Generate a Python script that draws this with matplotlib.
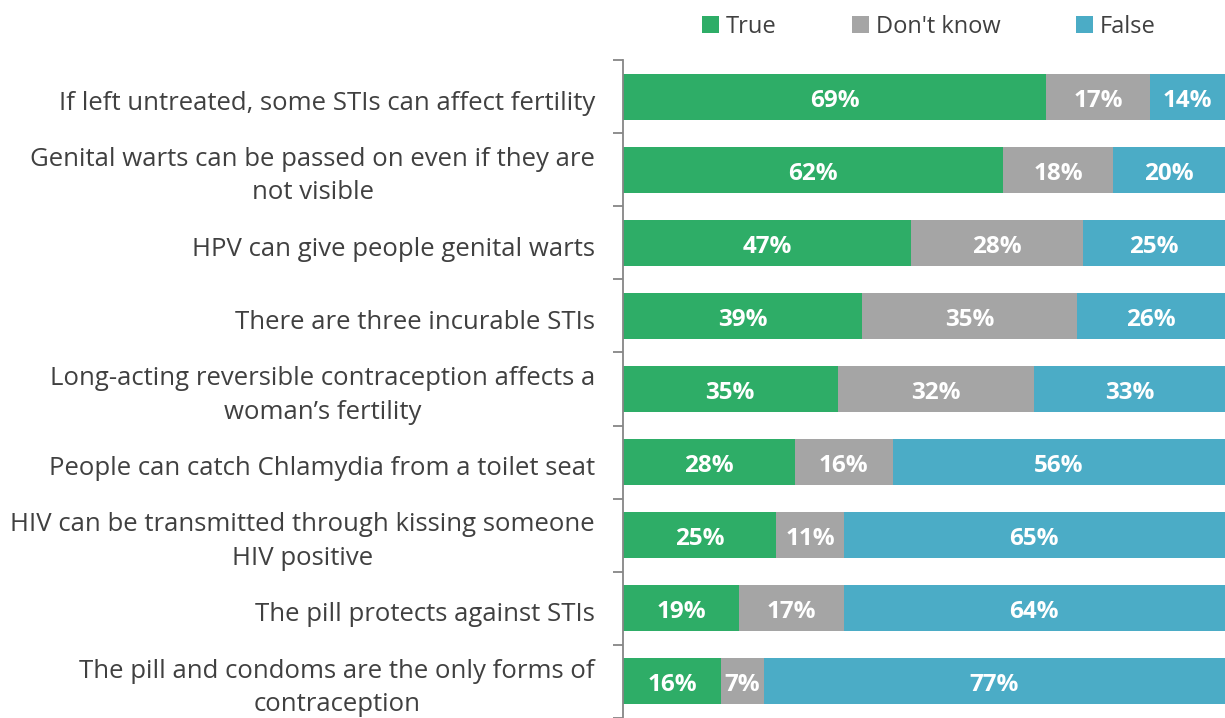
import matplotlib
matplotlib.use("Agg")
import matplotlib.pyplot as plt
import matplotlib.transforms as mtransforms
import numpy as np

# statements, top to bottom
statements = [
    "If left untreated, some STIs can affect fertility",
    "Genital warts can be passed on even if they are\nnot visible",
    "HPV can give people genital warts",
    "There are three incurable STIs",
    "Long-acting reversible contraception affects a\nwoman\u2019s fertility",
    "People can catch Chlamydia from a toilet seat",
    "HIV can be transmitted through kissing someone\nHIV positive",
    "The pill protects against STIs",
    "The pill and condoms are the only forms of\ncontraception",
]
true_pct = [69, 62, 47, 39, 35, 28, 25, 19, 16]
dontknow_pct = [17, 18, 28, 35, 32, 16, 11, 17, 7]
false_pct = [14, 20, 25, 26, 33, 56, 65, 64, 77]

series = [("True", true_pct, "#2EAD67"),
          ("Don't know", dontknow_pct, "#A5A5A5"),
          ("False", false_pct, "#4BACC6")]

plt.rcParams['font.family'] = ['Open Sans', 'DejaVu Sans']

fig = plt.figure(figsize=(12.25, 7.18), dpi=100)
# the source chart is cropped on the right, so the axes run past the edge
ax_l, ax_w = 623/1225, 613/1225
ax = fig.add_axes([ax_l, 0.0, ax_w, 1 - 60/718])
shift = mtransforms.ScaledTranslation(0, -4/100, fig.dpi_scale_trans)
x_visible = (1 - ax_l) / ax_w * 100  # data x at the right figure edge

n = len(statements)
y = np.arange(n)
left = np.zeros(n)
for name, vals, col in series:
    vals = np.array(vals, dtype=float)
    ax.barh(y, vals, left=left, height=0.63, color=col, label=name)
    for yi, (l, v) in enumerate(zip(left, vals)):
        xc = (l + min(l + v, x_visible)) / 2
        ax.text(xc, yi, "%d%%" % v, ha='center', va='center',
                color='white', fontsize=17.5, fontweight='bold',
                transform=ax.transData + shift)
    left = left + vals

ax.set_xlim(0, 100)
ax.set_ylim(n - 0.5, -0.5)
ax.set_yticks([])
lab_tr = ax.get_yaxis_transform() + mtransforms.ScaledTranslation(
    -28/100, -6.5/100, fig.dpi_scale_trans)
for yi, s in enumerate(statements):
    ax.text(0, yi, s, ha='right', va='center', multialignment='center',
            fontsize=18.5, color='#404040', linespacing=1.45, transform=lab_tr)
ax.set_yticks(np.arange(n + 1) - 0.5, minor=True)
ax.tick_params(axis='y', which='minor', length=7, width=1.3, color='#868686')
ax.set_xticks([])
for s in ['top', 'right', 'bottom']:
    ax.spines[s].set_visible(False)
ax.spines['left'].set_color('#868686')
ax.spines['left'].set_linewidth(1.3)

fig.legend(loc='center', bbox_to_anchor=(929/1225, 1 - 27/718), ncol=3,
           frameon=False, fontsize=17, handlelength=0.7, handleheight=0.7,
           handletextpad=0.3, columnspacing=3.2, labelcolor='#404040')

fig.savefig("out.png", dpi=100)
